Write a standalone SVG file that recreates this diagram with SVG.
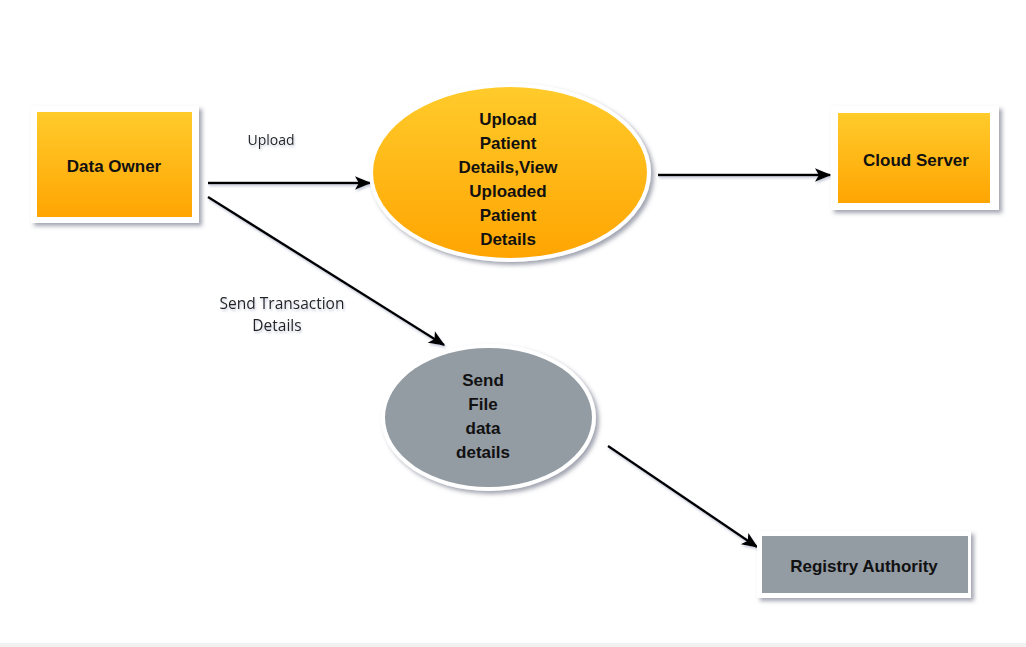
<svg xmlns="http://www.w3.org/2000/svg" width="1026" height="647" viewBox="0 0 1026 647">
<defs>
<linearGradient id="og" x1="0" y1="0" x2="0" y2="1">
<stop offset="0" stop-color="#ffcb2b"/>
<stop offset="1" stop-color="#ffa502"/>
</linearGradient>
<filter id="sh" x="-10%" y="-10%" width="125%" height="130%">
<feGaussianBlur in="SourceAlpha" stdDeviation="2"/>
<feOffset dx="3" dy="3" result="b"/>
<feFlood flood-color="#555a70" flood-opacity="0.55"/>
<feComposite in2="b" operator="in"/>
<feMerge><feMergeNode/><feMergeNode in="SourceGraphic"/></feMerge>
</filter>
<filter id="lsh" filterUnits="userSpaceOnUse" x="0" y="0" width="1026" height="647">
<feGaussianBlur in="SourceAlpha" stdDeviation="1.2"/>
<feOffset dx="1" dy="2" result="b"/>
<feFlood flood-color="#8890b0" flood-opacity="0.45"/>
<feComposite in2="b" operator="in"/>
<feMerge><feMergeNode/><feMergeNode in="SourceGraphic"/></feMerge>
</filter>
<marker id="ar" viewBox="0 0 10 10" refX="9" refY="5" markerWidth="15" markerHeight="15" markerUnits="userSpaceOnUse" orient="auto" overflow="visible">
<path d="M-1,0.5 L10,5 L-1,9.5 L1.5,5 Z" fill="#000"/>
</marker>
<style>
.frame{fill:#fff;filter:url(#sh)}
.orange{fill:url(#og)}
.gray{fill:#939ba3}
.t{font-family:"Liberation Sans",Arial,sans-serif;font-weight:bold;font-size:17px;fill:#111;text-anchor:middle}
.lab{font-family:"Open Sans","Liberation Sans",sans-serif;font-size:14px;fill:#222;text-anchor:middle;filter:url(#lsh)}
.c{stroke:#000;stroke-width:2.5;fill:none;marker-end:url(#ar)}
</style>
</defs>
<rect x="0" y="0" width="1026" height="647" fill="#fff"/>
<rect x="0" y="643" width="1026" height="4" fill="#f1f1f1"/>

<g id="connectors" filter="url(#lsh)">
<line class="c" x1="208" y1="183" x2="370" y2="183"/>
<line class="c" x1="658" y1="175" x2="830" y2="175"/>
<line class="c" x1="208" y1="197" x2="444" y2="345"/>
<line class="c" x1="608" y1="446" x2="757" y2="547"/>
</g>
<g id="labels">
<text class="lab" x="271" y="145">Upload</text>
<text class="lab" x="282" y="309" style="font-size:15.5px">Send Transaction</text>
<text class="lab" x="277" y="331" style="font-size:15.5px">Details</text>
</g>

<g id="data-owner">
<rect class="frame" x="31" y="106" width="168" height="117"/>
<rect class="orange" x="37" y="112" width="155" height="105"/>
<text class="t" x="114" y="172">Data Owner</text>
</g>

<g id="upload-process">
<ellipse class="frame" cx="510" cy="172.5" rx="141" ry="89.5"/>
<ellipse class="orange" cx="510" cy="172.5" rx="137" ry="85.5"/>
<text class="t" x="508" y="125">Upload</text>
<text class="t" x="508" y="149">Patient</text>
<text class="t" x="508" y="173">Details,View</text>
<text class="t" x="508" y="197">Uploaded</text>
<text class="t" x="508" y="221">Patient</text>
<text class="t" x="508" y="245">Details</text>
</g>

<g id="cloud-server">
<rect class="frame" x="831" y="106" width="168" height="104"/>
<rect class="orange" x="838" y="113" width="152" height="90"/>
<text class="t" x="916" y="166">Cloud Server</text>
</g>

<g id="send-file">
<ellipse class="frame" cx="488.5" cy="417.5" rx="107.5" ry="73.5"/>
<ellipse class="gray" cx="488.5" cy="417.5" rx="103.5" ry="69.5"/>
<text class="t" x="483" y="386">Send</text>
<text class="t" x="483" y="410">File</text>
<text class="t" x="483" y="434">data</text>
<text class="t" x="483" y="458">details</text>
</g>

<g id="registry-authority">
<rect class="frame" x="757" y="531" width="214" height="67"/>
<rect class="gray" x="762" y="536" width="206" height="57"/>
<text class="t" x="864" y="572">Registry Authority</text>
</g>
</svg>
